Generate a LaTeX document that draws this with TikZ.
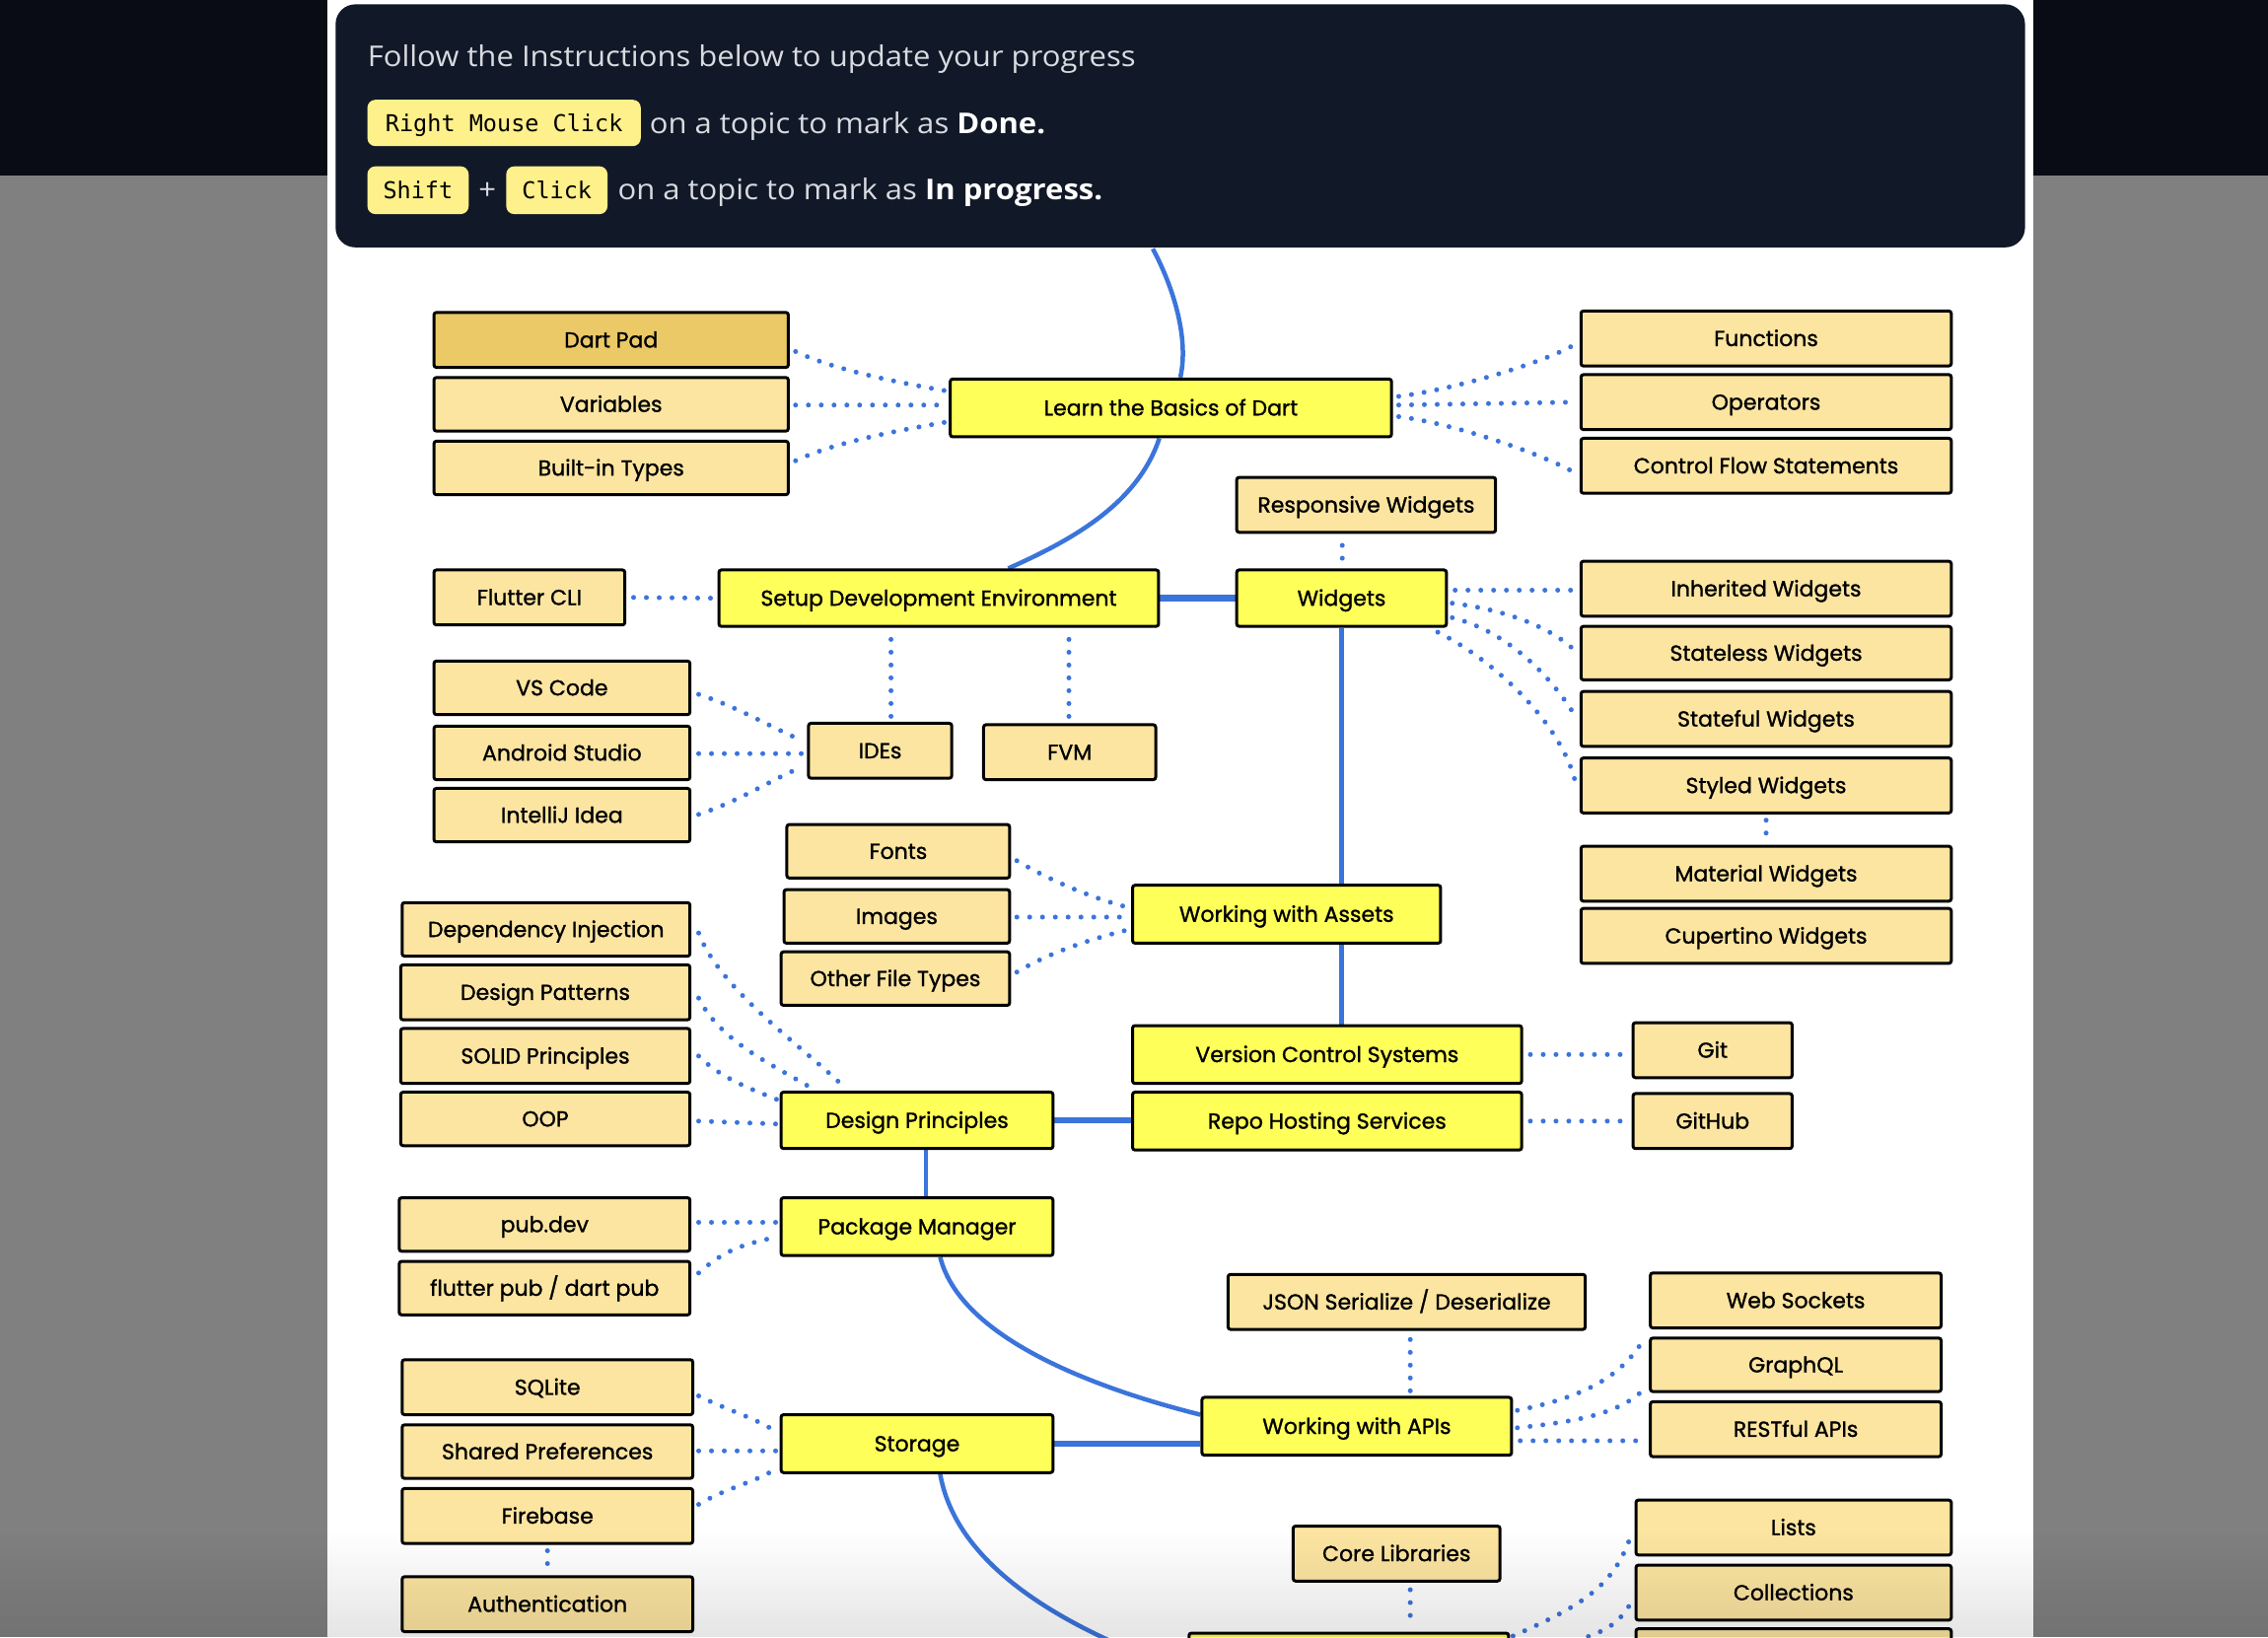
\documentclass[tikz,border=0pt]{standalone}
\usepackage{fontspec}
\setmainfont[FakeBold=1.2]{Poppins}
\newfontfamily\hdrfont[FakeStretch=1.07]{Open Sans}
\newfontfamily\monofont{DejaVu Sans Mono}
\usetikzlibrary{calc}
\definecolor{pagegray}{HTML}{808080}
\definecolor{topbar}{HTML}{090C14}
\definecolor{darkbox}{HTML}{111827}
\definecolor{hdrtext}{HTML}{D8DBE0}
\definecolor{keyfill}{HTML}{FEF08A}
\definecolor{leaf}{HTML}{FCE5A1}
\definecolor{leafdone}{HTML}{EBC967}
\definecolor{mainyellow}{HTML}{FFFF5A}
\definecolor{edgeblue}{HTML}{3B74DB}
\pgfdeclarelayer{bgl}
\pgfdeclarelayer{edgel}
\pgfdeclarelayer{fgl}
\pgfsetlayers{bgl,edgel,main,fgl}
\tikzset{
 box/.style={draw=black, line width=3pt, rounded corners=2.5pt, inner sep=0pt,
   font=\fontsize{22}{26}\selectfont, text height=15.4pt, text depth=0pt, align=center},
 leafbox/.style={box, fill=leaf},
 donebox/.style={box, fill=leafdone},
 mainbox/.style={box, fill=mainyellow},
 keybox/.style={fill=keyfill, rounded corners=8pt, inner sep=0pt,
   font=\monofont\fontsize{23.5}{27}\selectfont, text height=17.1pt, text depth=0pt, text=black},
 hdr/.style={anchor=west, inner sep=0pt, text=hdrtext,
   font=\hdrfont\fontsize{29}{33}\selectfont, text height=20.7pt, text depth=0pt},
 mainedge/.style={draw=edgeblue, line width=4.5pt},
 thickedge/.style={draw=edgeblue, line width=6.5pt},
 dotedge/.style={draw=edgeblue, line width=5pt, line cap=round, dash pattern=on 0pt off 13pt},
}
\newcommand\rmnode[7]{\node[#6, minimum width={1.4668*(#4-#2)*1pt}, minimum height={1.4668*(#5-#3)*1pt}] (#1) at ({(#2+#4)/2},{(#3+#5)/2}) {#7};}
\begin{document}
\begin{tikzpicture}[x=1.4668pt, y=-1.4668pt]
\useasboundingbox (0,0) rectangle (1568,1131.7);
\begin{pgfonlayer}{bgl}
\fill[pagegray] (0,0) rectangle (1568,1131.7);
\fill[topbar] (0,0) rectangle (1568,121.5);
\fill[white] (226.5,0) rectangle (1405.5,1131.7);
\fill[darkbox, rounded corners=20pt] (232,3) rectangle (1400,171);
\end{pgfonlayer}

% header
\node[hdr] (h1) at (254,39) {Follow the Instructions below to update your progress};
\rmnode{k1}{254}{69}{443}{101}{keybox}{Right Mouse Click}
\node[hdr] (h2) at (449,85) {on a topic to mark as \textcolor{white}{\bfseries Done.}};
\rmnode{k2}{254}{115}{324}{148}{keybox}{Shift}
\node[hdr, anchor=center] (plus) at (337,131) {+};
\rmnode{k3}{350}{115}{420}{148}{keybox}{Click}
\node[hdr] (h3) at (427,131) {on a topic to mark as \textcolor{white}{\bfseries In progress.}};

% nodes
\rmnode{dartpad}{300}{216}{545}{254}{donebox}{Dart Pad}
\rmnode{variables}{300}{261}{545}{298}{leafbox}{Variables}
\rmnode{builtin}{300}{305}{545}{342}{leafbox}{Built-in Types}
\rmnode{learn}{657}{262}{962}{302}{mainbox}{Learn the Basics of Dart}
\rmnode{functions}{1093}{215}{1349}{253}{leafbox}{Functions}
\rmnode{operators}{1093}{259}{1349}{297}{leafbox}{Operators}
\rmnode{control}{1093}{303}{1349}{341}{leafbox}{Control Flow Statements}
\rmnode{responsive}{855}{330}{1034}{368}{leafbox}{Responsive Widgets}
\rmnode{fluttercli}{300}{394}{432}{432}{leafbox}{Flutter CLI}
\rmnode{setup}{497}{394}{801}{433}{mainbox}{Setup Development Environment}
\rmnode{widgets}{855}{394}{1000}{433}{mainbox}{Widgets}
\rmnode{inherited}{1093}{388}{1349}{426}{leafbox}{Inherited Widgets}
\rmnode{stateless}{1093}{433}{1349}{470}{leafbox}{Stateless Widgets}
\rmnode{stateful}{1093}{478}{1349}{516}{leafbox}{Stateful Widgets}
\rmnode{styled}{1093}{524}{1349}{562}{leafbox}{Styled Widgets}
\rmnode{vscode}{300}{457}{477}{494}{leafbox}{VS Code}
\rmnode{android}{300}{502}{477}{539}{leafbox}{Android Studio}
\rmnode{intellij}{300}{545}{477}{582}{leafbox}{IntelliJ Idea}
\rmnode{ides}{559}{500}{658}{538}{leafbox}{IDEs}
\rmnode{fvm}{680}{501}{799}{539}{leafbox}{FVM}
\rmnode{fonts}{544}{570}{698}{607}{leafbox}{Fonts}
\rmnode{images}{542}{615}{698}{652}{leafbox}{Images}
\rmnode{other}{540}{658}{698}{695}{leafbox}{Other File Types}
\rmnode{assets}{783}{612}{996}{652}{mainbox}{Working with Assets}
\rmnode{material}{1093}{585}{1349}{623}{leafbox}{Material Widgets}
\rmnode{cupertino}{1093}{628}{1349}{666}{leafbox}{Cupertino Widgets}
\rmnode{depinj}{278}{624}{477}{661}{leafbox}{Dependency Injection}
\rmnode{patterns}{277}{667}{477}{705}{leafbox}{Design Patterns}
\rmnode{solid}{277}{711}{477}{749}{leafbox}{SOLID Principles}
\rmnode{oop}{277}{755}{477}{792}{leafbox}{OOP}
\rmnode{vcs}{783}{709}{1052}{749}{mainbox}{Version Control Systems}
\rmnode{git}{1129}{707}{1239}{745}{leafbox}{Git}
\rmnode{dp}{540}{755}{728}{794}{mainbox}{Design Principles}
\rmnode{repo}{783}{755}{1052}{795}{mainbox}{Repo Hosting Services}
\rmnode{github}{1129}{756}{1239}{794}{leafbox}{GitHub}
\rmnode{pubdev}{276}{828}{477}{865}{leafbox}{pub.dev}
\rmnode{flutterpub}{276}{872}{477}{909}{leafbox}{flutter pub / dart pub}
\rmnode{pm}{540}{828}{728}{868}{mainbox}{Package Manager}
\rmnode{json}{849}{881}{1096}{919}{leafbox}{JSON Serialize / Deserialize}
\rmnode{websockets}{1141}{880}{1342}{918}{leafbox}{Web Sockets}
\rmnode{graphql}{1141}{925}{1342}{962}{leafbox}{GraphQL}
\rmnode{restful}{1141}{969}{1342}{1007}{leafbox}{RESTful APIs}
\rmnode{sqlite}{278}{940}{479}{978}{leafbox}{SQLite}
\rmnode{shared}{278}{985}{479}{1022}{leafbox}{Shared Preferences}
\rmnode{firebase}{278}{1029}{479}{1067}{leafbox}{Firebase}
\rmnode{storage}{540}{978}{728}{1018}{mainbox}{Storage}
\rmnode{apis}{831}{966}{1045}{1006}{mainbox}{Working with APIs}
\rmnode{corelib}{894}{1055}{1037}{1093}{leafbox}{Core Libraries}
\rmnode{lists}{1131}{1037}{1349}{1075}{leafbox}{Lists}
\rmnode{collections}{1131}{1082}{1349}{1120}{leafbox}{Collections}
\rmnode{auth}{278}{1090}{479}{1128}{leafbox}{Authentication}
\rmnode{bottomnode}{822}{1129}{1043}{1175}{mainbox}{}
\rmnode{bottomright}{1131}{1126}{1349}{1170}{leafbox}{}

\coordinate (topstart) at (797,172);
\coordinate (offbottom) at (785,1142);

\begin{pgfonlayer}{edgel}
% main edges
\draw[mainedge] (topstart) .. controls (812,200) and (822,235) .. ($(learn.north)+(6.5,0)$);
\draw[mainedge] ($(learn.south)+(-8,0)$) .. controls +(-15,45) and +(45,-20) .. ($(setup.north)+(48,0)$);
\draw[thickedge] (setup.east) -- (widgets.west);
\draw[mainedge] (widgets.south) -- (widgets.south |- assets.north);
\draw[mainedge] (widgets.south |- assets.south) -- (widgets.south |- vcs.north);
\draw[thickedge] (dp.east) -- (dp.east -| repo.west);
\draw[mainedge] ($(dp.south)+(6,0)$) -- ($(pm.north)+(6,0)$);
\draw[mainedge] ($(pm.south)+(16,0)$) .. controls +(15,60) and +(-60,-15) .. ($(apis.west)+(0,-8)$);
\draw[thickedge] (storage.east) -- (storage.east -| apis.west);
\draw[mainedge] ($(storage.south)+(16,0)$) .. controls +(10,57) and +(-65,-27) .. (offbottom);

% dotted edges
\draw[dotedge] ($(dartpad.east)+(4,8)$) .. controls +(25,12) and +(-35,-6) .. ($(learn.west)+(-3,-12)$);
\draw[dotedge] ($(variables.east)+(4,0.5)$) -- ($(learn.west)+(-3,-2)$);
\draw[dotedge] ($(builtin.east)+(4,-5)$) .. controls +(25,-12) and +(-35,6) .. ($(learn.west)+(-3,10)$);
\draw[dotedge] ($(learn.east)+(4,-8)$) .. controls +(40,-5) and +(-20,12) .. ($(functions.west)+(-3,4)$);
\draw[dotedge] ($(learn.east)+(4,-2)$) -- ($(operators.west)+(-3,0)$);
\draw[dotedge] ($(learn.east)+(4,6)$) .. controls +(40,5) and +(-20,-12) .. ($(control.west)+(-3,5)$);
\draw[dotedge] ($(fluttercli.east)+(5,0)$) -- ($(setup.west)+(-4,0)$);
\draw[dotedge] ($(setup.south)+(-33,8)$) -- ($(ides.north)+(7.5,-3)$);
\draw[dotedge] ($(setup.south)+(90,8)$) -- ($(fvm.north)+(-0.5,-3)$);
\draw[dotedge] ($(vscode.east)+(5,4.5)$) .. controls +(30,10) and +(-20,-8) .. ($(ides.west)+(-3,-7)$);
\draw[dotedge] ($(android.east)+(5,0.5)$) -- ($(ides.west)+(-3,2)$);
\draw[dotedge] ($(intellij.east)+(5,-0.5)$) .. controls +(30,-10) and +(-20,8) .. ($(ides.west)+(-3,11)$);
\draw[dotedge] ($(responsive.south)+(-16.5,8)$) -- ($(widgets.north)+(0.5,-4)$);
\draw[dotedge] ($(widgets.east)+(5,-5.5)$) -- ($(inherited.west)+(-3,1)$);
\draw[dotedge] ($(widgets.east)+(3,3.5)$) .. controls +(40,5) and +(-15,-15) .. ($(stateless.west)+(-3,-1.5)$);
\draw[dotedge] ($(widgets.east)+(3,13.5)$) .. controls +(40,10) and +(-15,-25) .. ($(stateful.west)+(-3,-2)$);
\draw[dotedge] ($(widgets.south east)+(-7,3)$) .. controls +(40,20) and +(-10,-40) .. ($(styled.west)+(-3,-3)$);
\draw[dotedge] ($(styled.south)+(0,4)$) -- ($(material.north)+(0,-3)$);
\draw[dotedge] ($(fonts.east)+(4,6.5)$) .. controls +(25,15) and +(-20,-5) .. ($(assets.west)+(-3,-5)$);
\draw[dotedge] ($(images.east)+(4,0.5)$) -- ($(assets.west)+(-3,2)$);
\draw[dotedge] ($(other.east)+(4,-4.5)$) .. controls +(25,-15) and +(-20,5) .. ($(assets.west)+(-3,11)$);
\draw[dotedge] ($(depinj.east)+(5,2.5)$) .. controls +(15,40) and +(-25,-25) .. ($(dp.north)+(-51,-3)$);
\draw[dotedge] ($(patterns.east)+(5,4)$) .. controls +(15,30) and +(-25,-15) .. ($(dp.north west)+(20,-3)$);
\draw[dotedge] ($(solid.east)+(5,0)$) .. controls +(15,15) and +(-20,-8) .. ($(dp.west)+(-2,-14.5)$);
\draw[dotedge] ($(oop.east)+(5,1.5)$) -- ($(dp.west)+(-2,2.5)$);
\draw[dotedge] ($(vcs.east)+(5,0)$) -- ($(git.west)+(-2,3)$);
\draw[dotedge] ($(repo.east)+(5,0)$) -- ($(github.west)+(-2,0)$);
\draw[dotedge] ($(pubdev.east)+(5,-1.5)$) -- ($(pm.west)+(-2,-3)$);
\draw[dotedge] ($(flutterpub.east)+(5,-10.5)$) .. controls +(20,-18) and +(-20,5) .. ($(pm.west)+(-2,7)$);
\draw[dotedge] ($(json.south)+(2.5,6)$) -- ($(apis.north)+(37,-3)$);
\draw[dotedge] ($(apis.east)+(3,-11)$) .. controls +(50,-10) and +(-15,25) .. ($(websockets.west)+(-3,26)$);
\draw[dotedge] ($(apis.east)+(3,1)$) .. controls +(50,-5) and +(-15,15) .. ($(graphql.west)+(-3,16.5)$);
\draw[dotedge] ($(apis.east)+(5,10)$) -- ($(restful.west)+(-3,8)$);
\draw[dotedge] ($(sqlite.east)+(3,6)$) .. controls +(20,10) and +(-15,-10) .. ($(storage.west)+(-2,-8)$);
\draw[dotedge] ($(shared.east)+(3,-0.5)$) -- ($(storage.west)+(-2,5)$);
\draw[dotedge] ($(firebase.east)+(3,-8)$) .. controls +(20,-12) and +(-15,10) .. ($(storage.west)+(-2,17)$);
\draw[dotedge] ($(firebase.south)+(0,4)$) -- ($(auth.north)+(0,-3)$);
\draw[dotedge] ($(corelib.south)+(9.5,5)$) -- ($(bottomnode.north)+(42.5,-3)$);
\draw[dotedge] ($(bottomnode.north east)+(2,3)$) .. controls +(45,-20) and +(-12,35) .. ($(lists.west)+(-3,7)$);
\draw[dotedge] ($(bottomnode.east)+(3,-6)$) .. controls +(55,-15) and +(-12,20) .. ($(collections.west)+(-3,8)$);
\end{pgfonlayer}

\begin{pgfonlayer}{fgl}
\foreach \i in {0,...,29} {
  \fill[black, fill opacity={0.0034*(\i+1)}] (0,{1060+2.4*\i}) rectangle (1568,{1062.4+2.4*\i});
}
\end{pgfonlayer}
\end{tikzpicture}
\end{document}
